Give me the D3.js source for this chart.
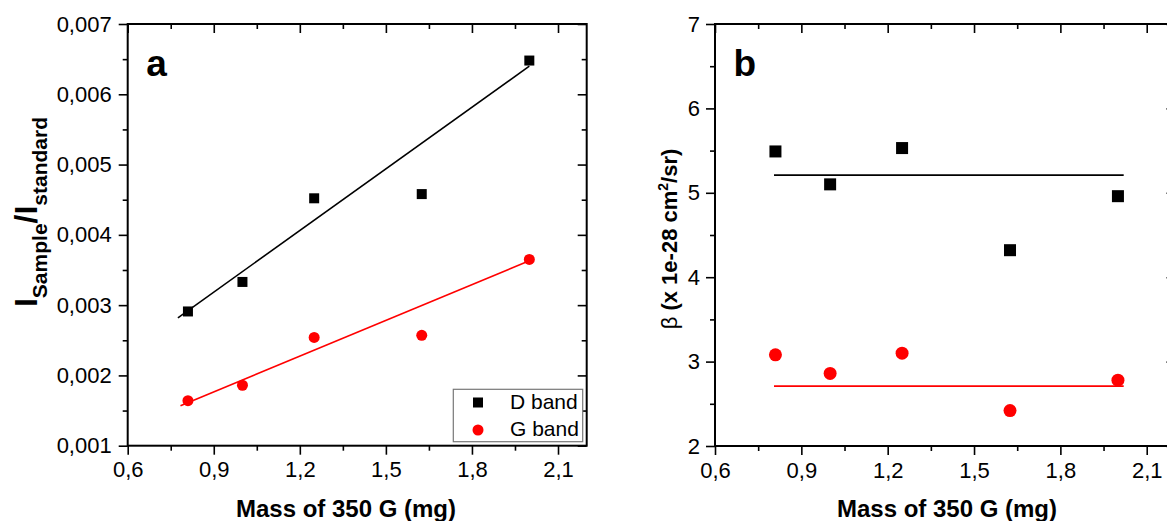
<!DOCTYPE html>
<html><head><meta charset="utf-8">
<script src="https://cdn.jsdelivr.net/npm/d3@7"></script>
<style>
html,body{margin:0;padding:0;background:#fff;}
text{font-family:"Liberation Sans",Arial,sans-serif;}
</style></head>
<body><svg id="c" width="1167" height="521"></svg>
<script>
// ---- data ----
const mass = [0.81, 1.0, 1.25, 1.625, 2.0];
const dBandA = [0.00291, 0.00333, 0.00452, 0.00458, 0.00648];
const gBandA = [0.00164, 0.00186, 0.00254, 0.00257, 0.00365];
const dBandB = [5.49, 5.10, 5.53, 4.32, 4.96];
const gBandB = [3.08, 2.86, 3.10, 2.42, 2.78];
const fitDAx = [0.775, 2.0], fitDAy = [0.00282, 0.00640];
const fitGAx = [0.784, 2.0], fitGAy = [0.00157, 0.00363];
const fitBx = [0.805, 2.02], fitDBy = [5.21, 5.21], fitGBy = [2.71, 2.71];
const xTicks = [0.6, 0.9, 1.2, 1.5, 1.8, 2.1];
const xTickLabels = ["0,6", "0,9", "1,2", "1,5", "1,8", "2,1"];
const xMinor = [0.75, 1.05, 1.35, 1.65, 1.95];
const yTicksA = [0.001, 0.002, 0.003, 0.004, 0.005, 0.006, 0.007];
const yTickLabelsA = ["0,001", "0,002", "0,003", "0,004", "0,005", "0,006", "0,007"];
const yMinorA = [0.0015, 0.0025, 0.0035, 0.0045, 0.0055, 0.0065];
const yTicksB = [2, 3, 4, 5, 6, 7];
const yTickLabelsB = ["2", "3", "4", "5", "6", "7"];
const yMinorB = [2.5, 3.5, 4.5, 5.5, 6.5];
const seriesNames = ["D band", "G band"];
const colors = ["#000000", "#ff0000"];

const svg = d3.select("#c");
svg.append("rect").attr("width",1167).attr("height",521).attr("fill","#fff");

function panel(cfg){
  const g = svg.append("g");
  const x = cfg.x, y = cfg.y;
  const [x0,x1] = x.range(), [yb,yt] = y.range();
  const fmtX = d => xTickLabels[xTicks.indexOf(d)];
  const fmtY = d => cfg.yLabels[cfg.yTicks.indexOf(d)];
  const style = sel => { sel.select(".domain").remove();
    sel.selectAll("line").attr("stroke","#000").attr("stroke-width",1.6);
    sel.selectAll("text").attr("font-size",22).attr("fill","#000")
      .attr("font-family","'Liberation Sans',Arial,sans-serif"); };
  // bottom
  g.append("g").attr("transform",`translate(0,${yb})`)
    .call(d3.axisBottom(x).tickValues(xTicks).tickFormat(fmtX).tickSize(9).tickPadding(7)).call(style);
  g.append("g").attr("transform",`translate(0,${yb})`)
    .call(d3.axisBottom(x).tickValues(xMinor).tickFormat("").tickSize(5)).call(style);
  // top (inward)
  g.append("g").attr("transform",`translate(0,${yt})`)
    .call(d3.axisBottom(x).tickValues(xTicks).tickFormat("").tickSize(9)).call(style);
  g.append("g").attr("transform",`translate(0,${yt})`)
    .call(d3.axisBottom(x).tickValues(xMinor).tickFormat("").tickSize(5)).call(style);
  // left
  g.append("g").attr("transform",`translate(${x0},0)`)
    .call(d3.axisLeft(y).tickValues(cfg.yTicks).tickFormat(fmtY).tickSize(9).tickPadding(cfg.yPad)).call(style);
  g.append("g").attr("transform",`translate(${x0},0)`)
    .call(d3.axisLeft(y).tickValues(cfg.yMinor).tickFormat("").tickSize(5)).call(style);
  // right (inward)
  g.append("g").attr("transform",`translate(${x1},0)`)
    .call(d3.axisLeft(y).tickValues(cfg.yTicks).tickFormat("").tickSize(9)).call(style);
  g.append("g").attr("transform",`translate(${x1},0)`)
    .call(d3.axisLeft(y).tickValues(cfg.yMinor).tickFormat("").tickSize(5)).call(style);
  // frame
  g.append("rect").attr("x",x0).attr("y",yt).attr("width",x1-x0).attr("height",yb-yt)
    .attr("fill","none").attr("stroke","#000").attr("stroke-width",2);
  // fit lines
  const line = d3.line().x(d=>x(d[0])).y(d=>y(d[1]));
  cfg.fits.forEach((f,i)=>{
    g.append("path").datum(f[0].map((v,k)=>[v,f[1][k]])).attr("d",line)
      .attr("fill","none").attr("stroke",colors[i]).attr("stroke-width",1.6);
  });
  // points
  const s = cfg.sq;
  g.selectAll(null).data(mass.map((m,i)=>[m,cfg.d[i]])).join("rect")
    .attr("x",d=>x(d[0])-s/2).attr("y",d=>y(d[1])-s/2).attr("width",s).attr("height",s).attr("fill",colors[0]);
  g.selectAll(null).data(mass.map((m,i)=>[m,cfg.gv[i]])).join("circle")
    .attr("cx",d=>x(d[0])).attr("cy",d=>y(d[1])).attr("r",cfg.r).attr("fill",colors[1]);
  // panel letter
  g.append("text").attr("x",x0+18.5).attr("y",76).attr("font-size",37).attr("font-weight","bold").text(cfg.letter);
  // x title
  g.append("text").attr("x",cfg.titleX).attr("y",517).attr("text-anchor","middle")
    .attr("font-size",24).attr("font-weight","bold").text("Mass of 350 G (mg)");
  return g;
}

const xA = d3.scaleLinear([0.6,2.2],[127.7,586.7]);
const yA = d3.scaleLinear([0.001,0.007],[445.7,24]);
panel({x:xA,y:yA,yTicks:yTicksA,yLabels:yTickLabelsA,yMinor:yMinorA,yPad:7,
  fits:[[fitDAx,fitDAy],[fitGAx,fitGAy]],d:dBandA,gv:gBandA,sq:10,r:5.5,letter:"a",titleX:346});

const xB = d3.scaleLinear([0.6,2.2],[715,1175.5]);
const yB = d3.scaleLinear([2,7],[446,24]);
panel({x:xB,y:yB,yTicks:yTicksB,yLabels:yTickLabelsB,yMinor:yMinorB,yPad:6,
  fits:[[fitBx,fitDBy],[fitBx,fitGBy]],d:dBandB,gv:gBandB,sq:12,r:6.5,letter:"b",titleX:947});

// legend (panel a)
const lg = svg.append("g");
lg.append("rect").attr("x",453.3).attr("y",389.3).attr("width",129.4).attr("height",52.4)
  .attr("fill","#fff").attr("stroke","#777").attr("stroke-width",1.2);
lg.append("rect").attr("x",473).attr("y",397.5).attr("width",10).attr("height",10).attr("fill",colors[0]);
lg.append("circle").attr("cx",478).attr("cy",430).attr("r",5.5).attr("fill",colors[1]);
lg.append("text").attr("x",510).attr("y",408.5).attr("font-size",21).text(seriesNames[0]);
lg.append("text").attr("x",510).attr("y",435.5).attr("font-size",21).text(seriesNames[1]);

// y title a
const ta = svg.append("text").attr("transform","translate(37,212) rotate(-90)")
  .attr("text-anchor","middle").attr("font-weight","bold");
ta.append("tspan").attr("font-size",32).text("I");
ta.append("tspan").attr("font-size",21).attr("dy",10).text("Sample");
ta.append("tspan").attr("font-size",32).attr("dy",-10).text("/I");
ta.append("tspan").attr("font-size",21).attr("dy",10).text("standard");

// y title b
const tb = svg.append("text").attr("transform","translate(677,239) rotate(-90)")
  .attr("text-anchor","middle").attr("font-size",22);
tb.append("tspan").attr("font-weight","normal").text("β ");
tb.append("tspan").attr("font-weight","bold").text("(x 1e-28 cm");
tb.append("tspan").attr("font-weight","bold").attr("font-size",14).attr("dy",-9).text("2");
tb.append("tspan").attr("font-weight","bold").attr("dy",9).text("/sr)");
</script></body></html>
